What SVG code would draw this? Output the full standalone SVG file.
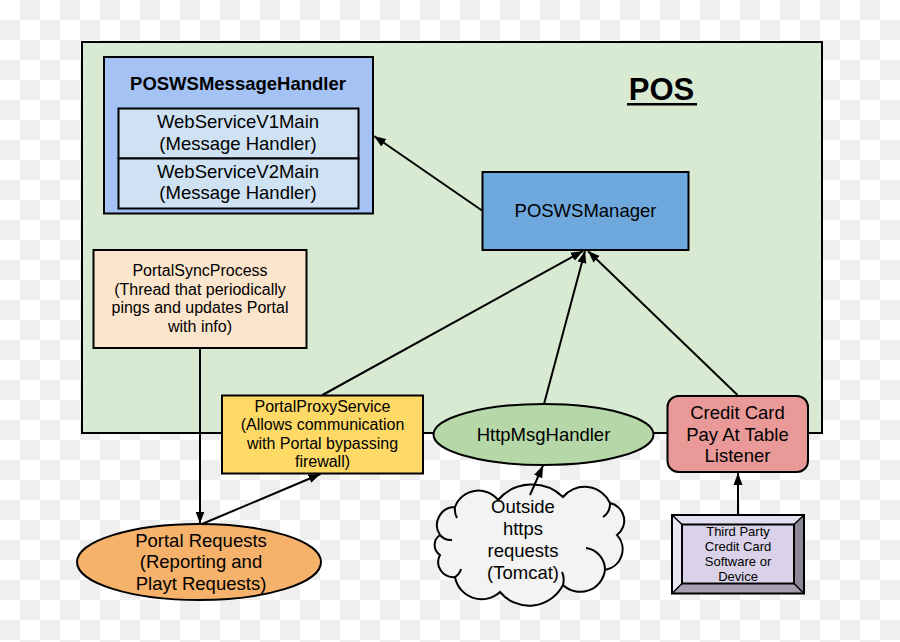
<svg xmlns="http://www.w3.org/2000/svg" width="900" height="642" viewBox="0 0 900 642">
<defs>
  <pattern id="checker" width="40" height="40" patternUnits="userSpaceOnUse">
    <rect width="40" height="40" fill="#ffffff"/>
    <rect x="20" y="0" width="20" height="20" fill="#efefef"/>
    <rect x="0" y="20" width="20" height="20" fill="#efefef"/>
  </pattern>
  <marker id="arrow" markerUnits="userSpaceOnUse" markerWidth="13" markerHeight="10" refX="12" refY="5" orient="auto">
    <path d="M0,0.5 L12,5 L0,9.5 Z" fill="#000"/>
  </marker>
  <style>
    .t { font-family: "Liberation Sans", Arial, sans-serif; fill: #000; text-anchor: middle; }
    .f18 { font-size: 18.5px; }
    .f16 { font-size: 16px; }
    .f13 { font-size: 13px; }
    .box { stroke: #000; stroke-width: 2; }
    .conn { fill: none; stroke: #000; stroke-width: 2; marker-end: url(#arrow); }
  </style>
</defs>

<rect width="900" height="642" fill="url(#checker)"/>

<g id="pos-container">
  <rect x="82" y="42" width="740" height="391" fill="#d9ead3" class="box"/>
  <text x="661.5" y="100" class="t" style="font-size:31px;font-weight:bold">POS</text>
  <line x1="627" y1="104.3" x2="697" y2="104.3" stroke="#000" stroke-width="2.5"/>
</g>

<g id="poswsmessagehandler">
  <rect x="104" y="57" width="269" height="156.5" fill="#a4c2f4" class="box"/>
  <text x="238" y="90" class="t f18" style="font-weight:bold">POSWSMessageHandler</text>
</g>

<g id="webservicev1main">
  <rect x="118.5" y="108.5" width="240" height="50" fill="#cfe2f3" class="box"/>
  <text x="238" y="128.3" class="t f18">WebServiceV1Main</text>
  <text x="238" y="150" class="t f18">(Message Handler)</text>
</g>

<g id="webservicev2main">
  <rect x="118.5" y="158.5" width="240" height="50" fill="#cfe2f3" class="box"/>
  <text x="238" y="177.5" class="t f18">WebServiceV2Main</text>
  <text x="238" y="199.3" class="t f18">(Message Handler)</text>
</g>

<g id="poswsmanager">
  <rect x="482.5" y="172" width="206" height="78" fill="#6fa8dc" class="box"/>
  <text x="585.5" y="217" class="t f18">POSWSManager</text>
</g>

<g id="portalsyncprocess">
  <rect x="93.5" y="250" width="213" height="98" fill="#fce5cd" class="box"/>
  <text x="200" y="276" class="t f16">PortalSyncProcess</text>
  <text x="200" y="294.6" class="t f16">(Thread that periodically</text>
  <text x="200" y="313.2" class="t f16">pings and updates Portal</text>
  <text x="200" y="331.8" class="t f16">with info)</text>
</g>

<g id="portalproxyservice">
  <rect x="222" y="395.5" width="201" height="78" fill="#ffd966" class="box"/>
  <text x="322.5" y="412" class="t f16">PortalProxyService</text>
  <text x="322.5" y="430.4" class="t f16">(Allows communication</text>
  <text x="322.5" y="448.8" class="t f16">with Portal bypassing</text>
  <text x="322.5" y="467.2" class="t f16">firewall)</text>
</g>

<g id="httpmsghandler">
  <ellipse cx="543.5" cy="434.5" rx="110" ry="30.5" fill="#b6d7a8" class="box"/>
  <text x="543.5" y="440.5" class="t f18">HttpMsgHandler</text>
</g>

<g id="creditcard">
  <rect x="667.5" y="396" width="140.5" height="76" rx="11" ry="11" fill="#ea9999" class="box"/>
  <text x="737.5" y="419" class="t f18">Credit Card</text>
  <text x="737.5" y="440.5" class="t f18">Pay At Table</text>
  <text x="737.5" y="462" class="t f18">Listener</text>
</g>

<g id="portalrequests">
  <ellipse cx="199" cy="562" rx="122" ry="38" fill="#f6b26b" class="box"/>
  <text x="201" y="546.5" class="t f18">Portal Requests</text>
  <text x="201" y="568" class="t f18">(Reporting and</text>
  <text x="201" y="589.5" class="t f18">Playt Requests)</text>
</g>

<g id="outside-requests">
  <path d="M440,535 A18,18 0 0 1 455,507 A25,25 0 0 1 498,500 A45,45 0 0 1 563,497 A28,28 0 0 1 610,503 A18,18 0 0 1 617,535 A21,21 0 0 1 605,570 A25,25 0 0 1 563,585 A38,38 0 0 1 500,592 A27,27 0 0 1 455,577 A15,15 0 0 1 440,555 A12,12 0 0 1 440,535 Z" fill="#f3f3f3" class="box"/>
  <path d="M440,535 A14,14 0 0 0 452,540" fill="none" class="box"/>
  <path d="M455,507 A18,18 0 0 0 457,518" fill="none" class="box"/>
  <path d="M610,503 A16,16 0 0 1 603,517" fill="none" class="box"/>
  <path d="M605,570 A22,22 0 0 0 586,548" fill="none" class="box"/>
  <path d="M563,585 A20,20 0 0 0 562,572" fill="none" class="box"/>
  <path d="M455,577 A14,14 0 0 0 461,569" fill="none" class="box"/>
  <text x="523" y="513" class="t f18">Outside</text>
  <text x="523" y="535" class="t f18">https</text>
  <text x="523" y="557" class="t f18">requests</text>
  <text x="523" y="578.5" class="t f18">(Tomcat)</text>
</g>

<g id="thirdparty">
  <rect x="672" y="515" width="132" height="78.5" fill="#d9d2e9"/>
  <polygon points="672,515 804,515 794,524.5 682,524.5" fill="#e4dff0"/>
  <polygon points="672,515 682,524.5 682,583.5 672,593.5" fill="#ebe7f3"/>
  <polygon points="804,515 804,593.5 794,583.5 794,524.5" fill="#8e8799"/>
  <polygon points="672,593.5 804,593.5 794,583.5 682,583.5" fill="#a7a0b2"/>
  <rect x="672" y="515" width="132" height="78.5" fill="none" class="box"/>
  <rect x="682" y="524.5" width="112" height="59" fill="none" class="box"/>
  <line x1="672" y1="515" x2="682" y2="524.5" stroke="#000" stroke-width="1.5"/>
  <line x1="804" y1="515" x2="794" y2="524.5" stroke="#000" stroke-width="1.5"/>
  <line x1="672" y1="593.5" x2="682" y2="583.5" stroke="#000" stroke-width="1.5"/>
  <line x1="804" y1="593.5" x2="794" y2="583.5" stroke="#000" stroke-width="1.5"/>
  <text x="738" y="536" class="t f13">Third Party</text>
  <text x="738" y="551" class="t f13">Credit Card</text>
  <text x="738" y="566" class="t f13">Software or</text>
  <text x="738" y="581" class="t f13">Device</text>
</g>

<g id="connectors">
  <line x1="482" y1="210.5" x2="374" y2="136" class="conn"/>
  <line x1="322.5" y1="395" x2="583" y2="251" class="conn"/>
  <line x1="544" y1="404" x2="585" y2="251" class="conn"/>
  <line x1="737.5" y1="395" x2="588" y2="251" class="conn"/>
  <line x1="200" y1="349" x2="200" y2="523.5" class="conn"/>
  <line x1="202" y1="524" x2="320.5" y2="474" class="conn"/>
  <line x1="530" y1="495" x2="543" y2="465.5" class="conn"/>
  <line x1="738" y1="514" x2="738" y2="473" class="conn"/>
</g>
</svg>
